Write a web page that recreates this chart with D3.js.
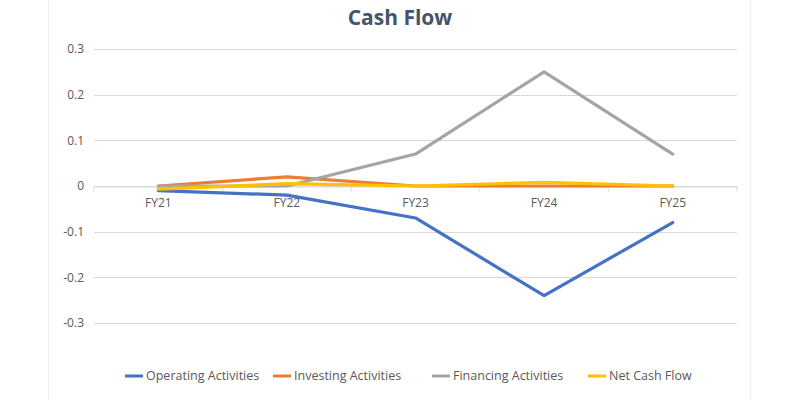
<!DOCTYPE html>
<html><head><meta charset="utf-8">
<script src="https://cdn.jsdelivr.net/npm/d3@7"></script>
<style>body{margin:0;background:#fff}svg{display:block}</style>
</head><body><svg id="c" width="800" height="400"></svg>
<script>
const categories = ["FY21","FY22","FY23","FY24","FY25"];
const operating = [-0.01,-0.02,-0.07,-0.24,-0.08];
const investing = [0.0,0.02,0.0,0.0,0.0];
const financing = [0.0,0.0,0.07,0.25,0.07];
const netCash = [-0.007,0.005,0.0,0.008,0.0];
const yTicks = [0.3,0.2,0.1,0,-0.1,-0.2,-0.3];
const seriesNames = ["Operating Activities","Investing Activities","Financing Activities","Net Cash Flow"];
const seriesColors = ["#4472C4","#ED7D31","#A5A5A5","#FFC000"];
const seriesData = [operating, investing, financing, netCash];

(function(){
const svg = d3.select("#c");
const font = "'Open Sans', 'Liberation Sans', sans-serif";
const pLeft = 94, pRight = 737, pTop = 49, pBottom = 323;
const x = d3.scaleBand().domain(categories).range([pLeft, pRight]);
const y = d3.scaleLinear().domain([-0.3, 0.3]).range([pBottom, pTop]);

[48.5, 750.5].forEach(xx=>svg.append("line").attr("x1",xx).attr("x2",xx).attr("y1",0).attr("y2",400)
  .attr("stroke","#F0F0F0"));

svg.append("text").attr("x",400).attr("y",25).attr("text-anchor","middle")
  .attr("font-family",font).attr("font-weight","bold").attr("font-size",21)
  .attr("fill","#44546A").text("Cash Flow");

svg.append("g").selectAll("line").data(yTicks).join("line")
  .attr("x1",pLeft).attr("x2",pRight).attr("y1",d=>Math.round(y(d))+0.5).attr("y2",d=>Math.round(y(d))+0.5)
  .attr("stroke","#D9D9D9").attr("stroke-width",1);

svg.append("g").selectAll("text").data(yTicks).join("text")
  .attr("x",84).attr("y",d=>y(d)).attr("dy","0.35em").attr("text-anchor","end")
  .attr("font-family",font).attr("font-size",12).attr("fill","#595959")
  .text(d=>String(d));

const xAxis = d3.axisBottom(x).tickSize(0).tickPadding(12);
const gx = svg.append("g").attr("transform",`translate(0,${Math.round(y(0))+0.5})`).call(xAxis);
gx.select(".domain").attr("stroke","#D9D9D9");
gx.selectAll("text").attr("font-family",font).attr("font-size",12).attr("fill","#595959");
const bounds = categories.map(c=>x(c)).concat([pRight]);
gx.append("g").selectAll("line").data(bounds).join("line")
  .attr("x1",d=>d).attr("x2",d=>d).attr("y1",0).attr("y2",5).attr("stroke","#D9D9D9");

const line = d3.line().x((d,i)=>x(categories[i])+x.bandwidth()/2).y(d=>y(d));
seriesData.forEach((s,k)=>{
  svg.append("path").datum(s).attr("d",line).attr("fill","none")
    .attr("stroke",seriesColors[k]).attr("stroke-width",3.2).attr("stroke-linejoin","round").attr("stroke-linecap","round");
});

const legX = [125,273,432,588];
const lg = svg.append("g");
seriesNames.forEach((n,k)=>{
  lg.append("line").attr("x1",legX[k]).attr("x2",legX[k]+18).attr("y1",376).attr("y2",376)
    .attr("stroke",seriesColors[k]).attr("stroke-width",3);
  lg.append("text").attr("x",legX[k]+21).attr("y",376).attr("dy","0.35em")
    .attr("font-family",font).attr("font-size",12.5).attr("fill","#595959").text(n);
});
})();
</script></body></html>
